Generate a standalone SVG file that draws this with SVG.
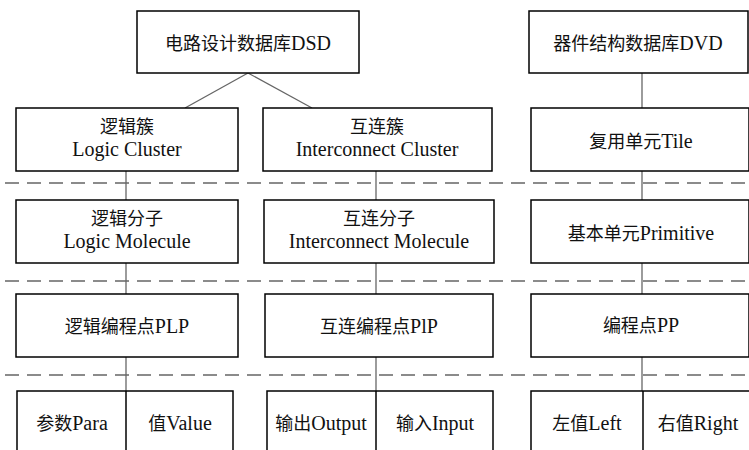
<svg xmlns="http://www.w3.org/2000/svg" width="749" height="450" viewBox="0 0 749 450">
<style>
.box{fill:#fff;stroke:#000;stroke-width:1.5}
.con{stroke:#666;stroke-width:1.3;fill:none}
.dash{stroke:#666;stroke-width:1.5;stroke-dasharray:14 8;fill:none}
text{font-family:"Liberation Serif","Noto Sans CJK SC",serif;font-size:18px;fill:#111;text-anchor:middle}
.en{font-size:20px}
</style>
<rect width="749" height="450" fill="#fff"/>
<g id="separators">
<line class="dash" x1="5" y1="183" x2="749" y2="183"/>
<line class="dash" x1="5" y1="281" x2="749" y2="281"/>
<line class="dash" x1="5" y1="375" x2="749" y2="375"/>
</g>
<g id="connectors">
<line class="con" x1="248" y1="73" x2="185" y2="108"/>
<line class="con" x1="248" y1="73" x2="312" y2="108"/>
<line class="con" x1="642" y1="73" x2="642" y2="108"/>
<line class="con" x1="126" y1="171" x2="126" y2="200"/>
<line class="con" x1="376" y1="171" x2="376" y2="200"/>
<line class="con" x1="642" y1="171" x2="642" y2="200"/>
<line class="con" x1="126" y1="263" x2="126" y2="294"/>
<line class="con" x1="376" y1="263" x2="376" y2="294"/>
<line class="con" x1="642" y1="263" x2="642" y2="294"/>
<line class="con" x1="126" y1="357" x2="126" y2="391"/>
<line class="con" x1="376" y1="357" x2="376" y2="391"/>
<line class="con" x1="642" y1="357" x2="642" y2="391"/>
</g>
<g id="dsd">
<rect class="box" x="137" y="11" width="222" height="62"/>
<text x="248" y="50">电路设计数据库<tspan class="en">DSD</tspan></text>
</g>
<g id="dvd">
<rect class="box" x="529" y="11" width="219" height="62"/>
<text x="638" y="50">器件结构数据库<tspan class="en">DVD</tspan></text>
</g>
<g id="logic-cluster">
<rect class="box" x="16" y="108" width="222" height="63"/>
<text x="127" y="133">逻辑簇</text>
<text class="en" x="127" y="156">Logic Cluster</text>
</g>
<g id="interconnect-cluster">
<rect class="box" x="263" y="108" width="229" height="63"/>
<text x="377" y="133">互连簇</text>
<text class="en" x="377" y="156">Interconnect Cluster</text>
</g>
<g id="tile">
<rect class="box" x="531" y="108" width="218" height="63"/>
<text x="641" y="148">复用单元<tspan class="en">Tile</tspan></text>
</g>
<g id="logic-molecule">
<rect class="box" x="16" y="200" width="222" height="63"/>
<text x="127" y="225">逻辑分子</text>
<text class="en" x="127" y="248">Logic Molecule</text>
</g>
<g id="interconnect-molecule">
<rect class="box" x="264" y="200" width="230" height="63"/>
<text x="379" y="225">互连分子</text>
<text class="en" x="379" y="248">Interconnect Molecule</text>
</g>
<g id="primitive">
<rect class="box" x="531" y="200" width="218" height="63"/>
<text x="641" y="240">基本单元<tspan class="en">Primitive</tspan></text>
</g>
<g id="plp">
<rect class="box" x="16" y="294" width="222" height="63"/>
<text x="127" y="333">逻辑编程点<tspan class="en">PLP</tspan></text>
</g>
<g id="pip">
<rect class="box" x="265" y="294" width="228" height="63"/>
<text x="379" y="333">互连编程点<tspan class="en">PlP</tspan></text>
</g>
<g id="pp">
<rect class="box" x="531" y="294" width="218" height="63"/>
<text x="641" y="332">编程点<tspan class="en">PP</tspan></text>
</g>
<g id="plp-fields">
<rect class="box" x="17" y="391" width="216" height="70"/>
<line class="box" x1="126" y1="391" x2="126" y2="461"/>
<text x="72" y="430">参数<tspan class="en">Para</tspan></text>
<text x="180" y="430">值<tspan class="en">Value</tspan></text>
</g>
<g id="pip-fields">
<rect class="box" x="267" y="391" width="226" height="70"/>
<line class="box" x1="376" y1="391" x2="376" y2="461"/>
<text x="321" y="430">输出<tspan class="en">Output</tspan></text>
<text x="435" y="430">输入<tspan class="en">Input</tspan></text>
</g>
<g id="pp-fields">
<rect class="box" x="531" y="391" width="220" height="70"/>
<line class="box" x1="643" y1="391" x2="643" y2="461"/>
<text x="587" y="430">左值<tspan class="en">Left</tspan></text>
<text x="698" y="430">右值<tspan class="en">Right</tspan></text>
</g>
</svg>
